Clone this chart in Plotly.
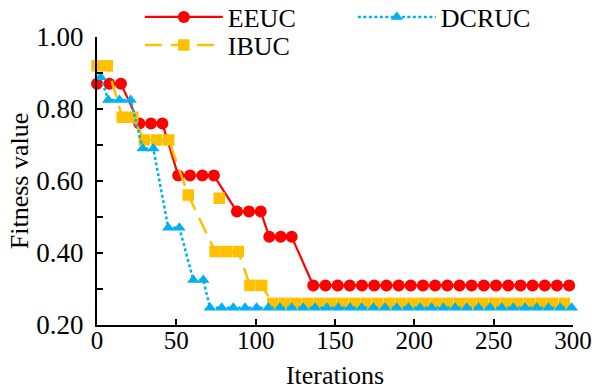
import plotly.graph_objects as go

# EEUC
eeuc_x = [0, 7.8, 15.1, 26.7, 34.0, 41.2, 51.2, 58.6, 66.4, 73.7, 88.2, 95.8, 103.2,
          108.6, 115.8, 122.7, 136.3, 144.0, 151.7, 159.3, 167.0, 174.7, 182.4, 190.1,
          197.7, 205.4, 213.1, 220.8, 228.5, 236.1, 243.8, 251.5, 259.2, 266.9, 274.5,
          282.2, 289.9, 297.6]
eeuc_y = [0.87, 0.87, 0.87, 0.76, 0.76, 0.76, 0.615, 0.615, 0.615, 0.615, 0.515, 0.515, 0.515,
          0.445, 0.445, 0.445, 0.31, 0.31, 0.31, 0.31, 0.31, 0.31, 0.31, 0.31,
          0.31, 0.31, 0.31, 0.31, 0.31, 0.31, 0.31, 0.31, 0.31, 0.31, 0.31,
          0.31, 0.31, 0.31]

# IBUC
ibuc_x = [0, 6.5, 15.9, 22.5, 29.8, 37.6, 45.2, 57.5, 74.4, 81.7, 89.1, 96.4, 103.8,
          110.7, 118.1, 125.4, 132.8, 140.1, 147.5, 154.8, 162.2, 169.5, 176.9, 184.3,
          191.6, 199.0, 206.3, 213.7, 221.0, 228.4, 235.7, 243.1, 250.5, 257.8, 265.2,
          272.5, 279.9, 287.2, 294.6]
ibuc_y = [0.92, 0.92, 0.777, 0.777, 0.714, 0.714, 0.714, 0.561, 0.404, 0.404, 0.404, 0.31, 0.31,
          0.26, 0.26, 0.26, 0.26, 0.26, 0.26, 0.26, 0.26, 0.26, 0.26, 0.26,
          0.26, 0.26, 0.26, 0.26, 0.26, 0.26, 0.26, 0.26, 0.26, 0.26, 0.26,
          0.26, 0.26, 0.26, 0.26]
ibuc_extra_x = [77.1]
ibuc_extra_y = [0.552]

# DCRUC
dcruc_x = [2.3, 7.1, 14.1, 21.2, 28.8, 35.5, 44.9, 51.9, 60.7, 67.0,
           71.2, 78.6, 85.9, 93.3, 100.6, 108.0, 115.3, 122.7, 130.0, 137.4,
           144.8, 152.1, 159.5, 166.8, 174.2, 181.5, 188.9, 196.2, 203.6, 210.9,
           218.3, 225.7, 233.0, 240.4, 247.7, 255.1, 262.4, 269.8, 277.1, 284.5,
           291.9, 299.2]
dcruc_y = [0.888, 0.825, 0.825, 0.825, 0.69, 0.69, 0.47, 0.47, 0.325, 0.325,
           0.248, 0.248, 0.248, 0.248, 0.248, 0.248, 0.248, 0.248, 0.248, 0.248,
           0.248, 0.248, 0.248, 0.248, 0.248, 0.248, 0.248, 0.248, 0.248, 0.248,
           0.248, 0.248, 0.248, 0.248, 0.248, 0.248, 0.248, 0.248, 0.248, 0.248,
           0.248, 0.248]

x_ticks = [0, 50, 100, 150, 200, 250, 300]
y_ticks = [0.2, 0.4, 0.6, 0.8, 1.0]

RED = "#FF0000"
GOLD = "#FFC000"
BLUE = "#00B0F0"
FONT = "Liberation Serif"

fig = go.Figure()
fig.add_trace(go.Scatter(
    x=eeuc_x, y=eeuc_y, name="EEUC", mode="lines+markers", legend="legend",
    line=dict(color=RED, width=2.2),
    marker=dict(symbol="circle", size=12, color=RED),
    cliponaxis=False))
fig.add_trace(go.Scatter(
    x=ibuc_x, y=ibuc_y, name="IBUC", mode="lines+markers", legend="legend2",
    line=dict(color=GOLD, width=2.5, dash="17px,9px"),
    marker=dict(symbol="square", size=11.5, color=GOLD),
    cliponaxis=False))
fig.add_trace(go.Scatter(
    x=ibuc_extra_x, y=ibuc_extra_y, name="IBUC", mode="markers", showlegend=False,
    marker=dict(symbol="square", size=11.5, color=GOLD),
    cliponaxis=False))
fig.add_trace(go.Scatter(
    x=dcruc_x, y=dcruc_y, name="DCRUC", mode="lines+markers", legend="legend",
    line=dict(color=BLUE, width=2.5, dash="3px,2.5px"),
    marker=dict(symbol="triangle-up", size=11, color=BLUE),
    cliponaxis=False))

legend_common = dict(orientation="h", xanchor="left", yanchor="middle",
                     entrywidth=120, entrywidthmode="pixels", itemwidth=78,
                     font=dict(family=FONT, size=26), bgcolor="rgba(0,0,0,0)",
                     tracegroupgap=0, traceorder="normal")

fig.update_layout(
    width=596, height=390,
    margin=dict(l=97, r=23, t=37, b=65, autoexpand=False),
    paper_bgcolor="white", plot_bgcolor="white",
    font=dict(family=FONT, color="black", size=26),
    showlegend=True,
    legend=dict(x=0.09, y=1 + (37 - 17) / 288, **legend_common),
    legend2=dict(x=0.09, y=1 + (37 - 45) / 288, **legend_common),
    xaxis=dict(range=[0, 300], tickvals=x_ticks, ticks="inside", ticklen=6, tickwidth=1.5,
               tickcolor="black", showline=True, linecolor="black", linewidth=2,
               showgrid=False, zeroline=False, tickfont=dict(size=25, family=FONT),
               ticklabelstandoff=-8,
               title=dict(text="Iterations", font=dict(size=26, family=FONT), standoff=13)),
    yaxis=dict(range=[0.2, 1.0], tickvals=y_ticks, tickformat=".2f", ticks="inside",
               ticklen=6, tickwidth=1.5, tickcolor="black", showline=True,
               linecolor="black", linewidth=2, showgrid=False, zeroline=False,
               ticklabelstandoff=6,
               minor=dict(dtick=0.1, tick0=0.2, ticks="inside", ticklen=6, tickwidth=1.5,
                          tickcolor="black", showgrid=False),
               tickfont=dict(size=27, family=FONT),
               title=dict(text="Fitness value", font=dict(size=26, family=FONT), standoff=0)),
)

fig.write_html("out.html")
